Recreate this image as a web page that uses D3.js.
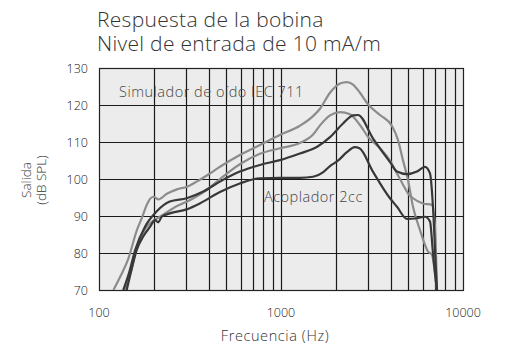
<!DOCTYPE html>
<html>
<head>
<meta charset="utf-8">
<script src="https://cdn.jsdelivr.net/npm/d3@7"></script>
<style>
  body { margin: 0; background: #fff; }
  text { font-family: "Open Sans", Lato, sans-serif; }
</style>
</head>
<body>
<script>
// curves: [frequency Hz, level dB SPL]
const iecHigh = [[120,70],[132,74],[145,78.5],[161,86],[172,89.5],[183,93],[192,94.8],[200,95.2],[212,94.5],[236,96],[268,97.2],[304,97.9],[358,99.8],[407,101.5],[462,103.3],[594,106.5],[766,109.2],[985,111.9],[1270,114.4],[1500,117],[1638,119],[1859,123.3],[2110,125.8],[2300,126.2],[2490,125.5],[2716,123.3],[3006,120.2],[3500,117.3],[4074,114.3],[4395,110.5],[4677,105.1],[4988,99.7],[5312,92.5],[5805,86.2],[6424,80.4],[6754,79.5],[7015,74.6],[7195,70]];
const iecLow = [[139,70],[150,75],[161,81.5],[183,87.1],[200,88.8],[216,89.8],[256,92.1],[330,94.8],[390,97],[462,100],[594,104],[766,106.8],[985,108.3],[1270,109.7],[1500,112],[1638,114.5],[1859,117.2],[2110,118.1],[2393,117.5],[2716,114.6],[3006,111.4],[3500,108.3],[3970,105],[4339,101.5],[4677,98.5],[5000,96],[5312,94.8],[6030,93.4],[6754,93],[7015,87],[7195,70]];
const ccHigh = [[136,70],[147,75],[158,80.8],[179,87.1],[207,91.2],[245,93.9],[303,94.8],[374,96.6],[462,99.3],[594,102],[766,103.8],[985,105.1],[1270,106.9],[1580,108.7],[1859,111.3],[2191,115],[2487,117.2],[2650,117.3],[3200,111],[3980,104.5],[4339,102],[4923,101.3],[5590,102],[6180,103.3],[6586,101.5],[6839,92.5],[7108,75],[7195,70]];
const ccLow = [[142,70],[150,75],[161,80.8],[175,84.5],[191,87.1],[203,88.9],[212,88.3],[221,89.8],[245,90.7],[303,91.8],[358,93.4],[462,96.5],[594,98.8],[766,100.2],[985,100.3],[1270,100.3],[1500,100.6],[1700,101.8],[1859,103.5],[2040,104.8],[2310,107.3],[2540,108.6],[2700,108.3],[3200,102],[3970,94.8],[4339,92.5],[4923,89.2],[5590,89.4],[6180,89.8],[6586,88.5],[6839,80],[7108,72],[7195,70]];

const yTicks = [70, 80, 90, 100, 110, 120, 130];
const xTicks = [100, 1000, 10000];
const titleLines = ["Respuesta de la bobina", "Nivel de entrada de 10 mA/m"];

const w = 511, h = 345;
const pLeft = 99, pRight = 463, pTop = 68, pBottom = 290;

const svg = d3.select('body').append('svg')
  .attr('width', w)
  .attr('height', h);

const x = d3.scaleLog().domain([100, 10000]).range([pLeft, pRight]);
const y = d3.scaleLinear().domain([70, 130]).range([pBottom, pTop]);

svg.append('rect')
  .attr('x', pLeft).attr('y', pTop)
  .attr('width', pRight - pLeft).attr('height', pBottom - pTop)
  .attr('fill', '#ececec');

// grid
const minor = [];
[100, 1000].forEach(d => { for (let k = 2; k <= 9; k++) minor.push(d * k); });
minor.push(1000);

svg.append('g')
  .selectAll('line')
  .data(minor)
  .enter()
  .append('line')
  .attr('x1', d => Math.round(x(d)) + 0.5)
  .attr('x2', d => Math.round(x(d)) + 0.5)
  .attr('y1', pTop).attr('y2', pBottom)
  .attr('stroke', '#1a1a1a').attr('stroke-width', 1.2);

svg.append('g')
  .selectAll('line')
  .data(yTicks.slice(1, -1))
  .enter()
  .append('line')
  .attr('x1', pLeft).attr('x2', pRight)
  .attr('y1', d => Math.round(y(d)) + 0.5)
  .attr('y2', d => Math.round(y(d)) + 0.5)
  .attr('stroke', '#1a1a1a').attr('stroke-width', 1.2);

svg.append('rect')
  .attr('x', pLeft + 0.5).attr('y', pTop + 0.5)
  .attr('width', pRight - pLeft).attr('height', pBottom - pTop)
  .attr('fill', 'none')
  .attr('stroke', '#222').attr('stroke-width', 1.2);

svg.append('clipPath').attr('id', 'plot')
  .append('rect')
  .attr('x', pLeft).attr('y', pTop)
  .attr('width', pRight - pLeft).attr('height', pBottom - pTop);

const line = d3.line()
  .x(d => x(d[0]))
  .y(d => y(d[1]))
  .curve(d3.curveMonotoneX);

const curves = [
  { data: iecHigh, color: '#8c8c8c' },
  { data: iecLow, color: '#8c8c8c' },
  { data: ccHigh, color: '#383838' },
  { data: ccLow, color: '#383838' }
];

svg.append('g')
  .attr('clip-path', 'url(#plot)')
  .selectAll('path')
  .data(curves)
  .enter()
  .append('path')
  .attr('d', d => line(d.data))
  .attr('fill', 'none')
  .attr('stroke', d => d.color)
  .attr('stroke-width', 2.2)
  .attr('stroke-linejoin', 'round');

// tick labels
svg.append('g')
  .selectAll('text')
  .data(yTicks)
  .enter()
  .append('text')
  .attr('x', 88)
  .attr('y', d => y(d) + 4.5)
  .attr('text-anchor', 'end')
  .attr('font-size', 12.5)
  .attr('font-weight', 300)
  .attr('fill', '#222')
  .text(d => d);

svg.append('g')
  .selectAll('text')
  .data(xTicks)
  .enter()
  .append('text')
  .attr('x', d => x(d))
  .attr('y', 317)
  .attr('text-anchor', 'middle')
  .attr('font-size', 12.5)
  .attr('font-weight', 300)
  .attr('fill', '#222')
  .text(d => d);

svg.append('text')
  .attr('x', x(1000) - 6)
  .attr('y', 341)
  .attr('text-anchor', 'middle')
  .attr('font-size', 14.5)
  .attr('font-weight', 300)
  .attr('letter-spacing', 0.6)
  .attr('fill', '#333')
  .text('Frecuencia (Hz)');

svg.append('text')
  .attr('transform', 'translate(31,180) rotate(-90)')
  .attr('text-anchor', 'middle')
  .attr('font-size', 13.5)
  .attr('font-weight', 300)
  .attr('fill', '#333')
  .text('Salida');

svg.append('text')
  .attr('transform', 'translate(46,180) rotate(-90)')
  .attr('text-anchor', 'middle')
  .attr('font-size', 13.5)
  .attr('font-weight', 300)
  .attr('fill', '#333')
  .text('(dB SPL)');

// title, one text block with two lines
svg.append('text')
  .attr('font-size', 21)
  .attr('font-weight', 300)
  .attr('letter-spacing', 0.3)
  .attr('fill', '#333')
  .selectAll('tspan')
  .data(titleLines)
  .enter()
  .append('tspan')
  .attr('x', 97)
  .attr('y', (d, i) => 27 + i * 24)
  .text(d => d);

// annotations
svg.append('text')
  .attr('x', 119).attr('y', 97)
  .attr('font-size', 14.5)
  .attr('font-weight', 300)
  .attr('letter-spacing', 0.5)
  .attr('fill', '#444')
  .text('Simulador de oído IEC 711');

svg.append('text')
  .attr('x', 264).attr('y', 202)
  .attr('font-size', 14.5)
  .attr('font-weight', 300)
  .attr('letter-spacing', 0.5)
  .attr('fill', '#444')
  .text('Acoplador 2cc');
</script>
</body>
</html>
